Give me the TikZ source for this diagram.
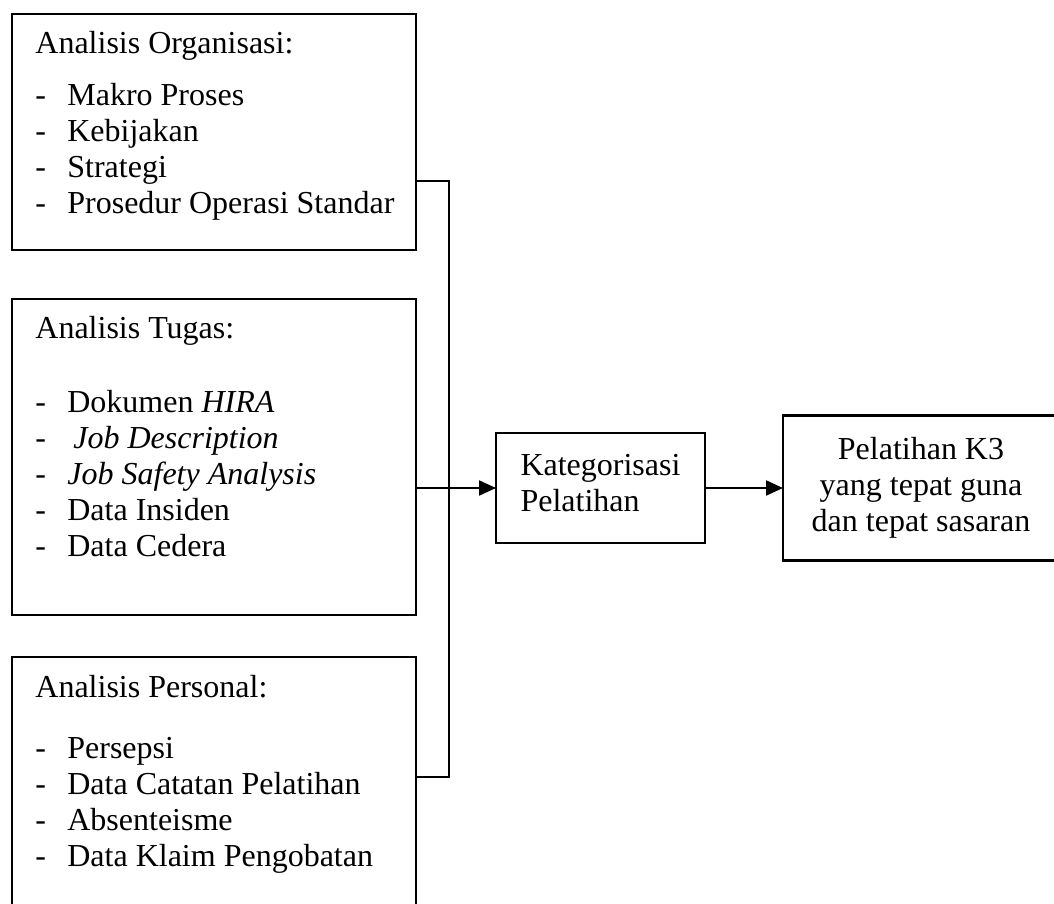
\documentclass[tikz,border=0pt]{standalone}
\usepackage{fontspec}
\setmainfont{Liberation Serif}
\usetikzlibrary{arrows.meta,positioning}

\newcommand{\itm}[1]{\makebox[16pt][l]{-}#1}

\begin{document}
\begin{tikzpicture}[x=0.5pt, y=-0.5pt,
    box/.style={rectangle, draw, line width=1.1pt, inner sep=0pt, outer sep=0pt, minimum width=202pt},
    list/.style={align=left, inner sep=0pt, font=\fontsize{16}{18}\selectfont},
    link/.style={line width=1.1pt},
    arrow/.style={-{Triangle[length=8.5pt, width=7.5pt]}, line width=1.1pt}
]
\useasboundingbox (0,0) rectangle (1054,904);
\clip (0,0) rectangle (1054,904);

% analysis boxes
\node[box, minimum height=118pt, anchor=north west] (org) at (12,14) {};
\node[box, below=24.5pt of org, minimum height=158pt] (tugas) {};
\node[box, below=21pt of tugas, minimum height=130pt] (personal) {};

\node[list, anchor=north west] (orgtext) at ([xshift=11.5pt, yshift=-8.5pt]org.north west) {Analisis Organisasi:\\[8pt]
  \itm{Makro Proses}\\ \itm{Kebijakan}\\ \itm{Strategi}\\ \itm{Prosedur Operasi Standar}};
\node[list, anchor=north west] (tugastext) at ([xshift=11.5pt, yshift=-8.5pt]tugas.north west) {Analisis Tugas:\\[19pt]
  \itm{Dokumen \textit{HIRA}}\\ \itm{\hspace{3pt}\textit{Job Description}}\\ \itm{\textit{Job Safety Analysis}}\\
  \itm{Data Insiden}\\ \itm{Data Cedera}};
\node[list, anchor=north west] (personaltext) at ([xshift=11.5pt, yshift=-9pt]personal.north west) {Analisis Personal:\\[12.5pt]
  \itm{Persepsi}\\ \itm{Data Catatan Pelatihan}\\ \itm{Absenteisme}\\ \itm{Data Klaim Pengobatan}};

% result boxes
\node[box, list, right=40pt of tugas, yshift=-15.5pt, minimum width=104.5pt, minimum height=55pt] (kat) {Kategorisasi\\Pelatihan\strut};
\node[box, list, align=center, right=39pt of kat, minimum width=138pt, minimum height=72.5pt] (hasil) {Pelatihan K3\\yang tepat guna\\dan tepat sasaran};

% connectors
\coordinate (bus) at (449,489);
\draw[link] ([yshift=-24.5pt]org.east) -| (bus);
\draw[link] ([yshift=5pt]personal.east) -| (bus);
\draw[arrow] (tugas.east |- kat.west) -- (kat.west);
\draw[arrow] (kat.east) -- (hasil.west |- kat.east);

\end{tikzpicture}
\end{document}
